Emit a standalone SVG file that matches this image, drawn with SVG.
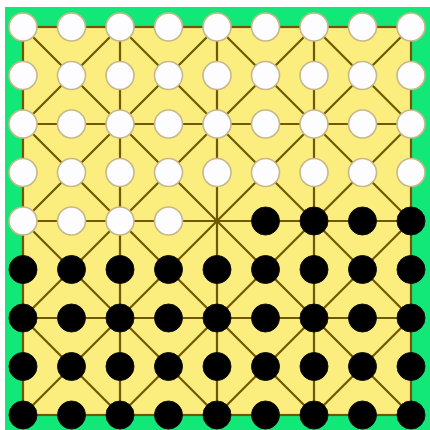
<svg xmlns="http://www.w3.org/2000/svg" width="430" height="430" viewBox="0 0 430 430">
<style>
.bd{fill:#fcee7e;stroke:#6e5800;stroke-width:2.2}
.ln{stroke:#6e5800;stroke-width:2.2;fill:none}
.w{fill:#fdfcfe;stroke:#c6b88a;stroke-width:1.6}
.b{fill:#000;stroke:#111;stroke-width:1}
</style>
<rect width="430" height="430" fill="#ffffff"/>
<rect x="5" y="7" width="425" height="423" fill="#12e878"/>
<rect class="bd" x="23" y="27" width="388" height="388"/>
<g id="connectors" class="ln">
<path d="M23 124H411M23 221H411M23 318H411M120 27V415M217 27V415M314 27V415"/>
<path d="M23 318L120 415M23 221L217 415M23 124L314 415M23 27L411 415M120 27L411 318M217 27L411 221M314 27L411 124"/>
<path d="M120 27L23 124M217 27L23 221M314 27L23 318M411 27L23 415M411 124L120 415M411 221L217 415M411 318L314 415"/>
</g>
<g id="white-pieces">
<g id="w-0-0"><circle class="w" cx="23" cy="27" r="14"/></g>
<g id="w-1-0"><circle class="w" cx="71.5" cy="27" r="14"/></g>
<g id="w-2-0"><circle class="w" cx="120" cy="27" r="14"/></g>
<g id="w-3-0"><circle class="w" cx="168.5" cy="27" r="14"/></g>
<g id="w-4-0"><circle class="w" cx="217" cy="27" r="14"/></g>
<g id="w-5-0"><circle class="w" cx="265.5" cy="27" r="14"/></g>
<g id="w-6-0"><circle class="w" cx="314" cy="27" r="14"/></g>
<g id="w-7-0"><circle class="w" cx="362.5" cy="27" r="14"/></g>
<g id="w-8-0"><circle class="w" cx="411" cy="27" r="14"/></g>
<g id="w-0-1"><circle class="w" cx="23" cy="75.5" r="14"/></g>
<g id="w-1-1"><circle class="w" cx="71.5" cy="75.5" r="14"/></g>
<g id="w-2-1"><circle class="w" cx="120" cy="75.5" r="14"/></g>
<g id="w-3-1"><circle class="w" cx="168.5" cy="75.5" r="14"/></g>
<g id="w-4-1"><circle class="w" cx="217" cy="75.5" r="14"/></g>
<g id="w-5-1"><circle class="w" cx="265.5" cy="75.5" r="14"/></g>
<g id="w-6-1"><circle class="w" cx="314" cy="75.5" r="14"/></g>
<g id="w-7-1"><circle class="w" cx="362.5" cy="75.5" r="14"/></g>
<g id="w-8-1"><circle class="w" cx="411" cy="75.5" r="14"/></g>
<g id="w-0-2"><circle class="w" cx="23" cy="124" r="14"/></g>
<g id="w-1-2"><circle class="w" cx="71.5" cy="124" r="14"/></g>
<g id="w-2-2"><circle class="w" cx="120" cy="124" r="14"/></g>
<g id="w-3-2"><circle class="w" cx="168.5" cy="124" r="14"/></g>
<g id="w-4-2"><circle class="w" cx="217" cy="124" r="14"/></g>
<g id="w-5-2"><circle class="w" cx="265.5" cy="124" r="14"/></g>
<g id="w-6-2"><circle class="w" cx="314" cy="124" r="14"/></g>
<g id="w-7-2"><circle class="w" cx="362.5" cy="124" r="14"/></g>
<g id="w-8-2"><circle class="w" cx="411" cy="124" r="14"/></g>
<g id="w-0-3"><circle class="w" cx="23" cy="172.5" r="14"/></g>
<g id="w-1-3"><circle class="w" cx="71.5" cy="172.5" r="14"/></g>
<g id="w-2-3"><circle class="w" cx="120" cy="172.5" r="14"/></g>
<g id="w-3-3"><circle class="w" cx="168.5" cy="172.5" r="14"/></g>
<g id="w-4-3"><circle class="w" cx="217" cy="172.5" r="14"/></g>
<g id="w-5-3"><circle class="w" cx="265.5" cy="172.5" r="14"/></g>
<g id="w-6-3"><circle class="w" cx="314" cy="172.5" r="14"/></g>
<g id="w-7-3"><circle class="w" cx="362.5" cy="172.5" r="14"/></g>
<g id="w-8-3"><circle class="w" cx="411" cy="172.5" r="14"/></g>
<g id="w-0-4"><circle class="w" cx="23" cy="221" r="14"/></g>
<g id="w-1-4"><circle class="w" cx="71.5" cy="221" r="14"/></g>
<g id="w-2-4"><circle class="w" cx="120" cy="221" r="14"/></g>
<g id="w-3-4"><circle class="w" cx="168.5" cy="221" r="14"/></g>
</g>
<g id="black-pieces">
<g id="b-5-4"><circle class="b" cx="265.5" cy="221" r="14"/></g>
<g id="b-6-4"><circle class="b" cx="314" cy="221" r="14"/></g>
<g id="b-7-4"><circle class="b" cx="362.5" cy="221" r="14"/></g>
<g id="b-8-4"><circle class="b" cx="411" cy="221" r="14"/></g>
<g id="b-0-5"><circle class="b" cx="23" cy="269.5" r="14"/></g>
<g id="b-1-5"><circle class="b" cx="71.5" cy="269.5" r="14"/></g>
<g id="b-2-5"><circle class="b" cx="120" cy="269.5" r="14"/></g>
<g id="b-3-5"><circle class="b" cx="168.5" cy="269.5" r="14"/></g>
<g id="b-4-5"><circle class="b" cx="217" cy="269.5" r="14"/></g>
<g id="b-5-5"><circle class="b" cx="265.5" cy="269.5" r="14"/></g>
<g id="b-6-5"><circle class="b" cx="314" cy="269.5" r="14"/></g>
<g id="b-7-5"><circle class="b" cx="362.5" cy="269.5" r="14"/></g>
<g id="b-8-5"><circle class="b" cx="411" cy="269.5" r="14"/></g>
<g id="b-0-6"><circle class="b" cx="23" cy="318" r="14"/></g>
<g id="b-1-6"><circle class="b" cx="71.5" cy="318" r="14"/></g>
<g id="b-2-6"><circle class="b" cx="120" cy="318" r="14"/></g>
<g id="b-3-6"><circle class="b" cx="168.5" cy="318" r="14"/></g>
<g id="b-4-6"><circle class="b" cx="217" cy="318" r="14"/></g>
<g id="b-5-6"><circle class="b" cx="265.5" cy="318" r="14"/></g>
<g id="b-6-6"><circle class="b" cx="314" cy="318" r="14"/></g>
<g id="b-7-6"><circle class="b" cx="362.5" cy="318" r="14"/></g>
<g id="b-8-6"><circle class="b" cx="411" cy="318" r="14"/></g>
<g id="b-0-7"><circle class="b" cx="23" cy="366.5" r="14"/></g>
<g id="b-1-7"><circle class="b" cx="71.5" cy="366.5" r="14"/></g>
<g id="b-2-7"><circle class="b" cx="120" cy="366.5" r="14"/></g>
<g id="b-3-7"><circle class="b" cx="168.5" cy="366.5" r="14"/></g>
<g id="b-4-7"><circle class="b" cx="217" cy="366.5" r="14"/></g>
<g id="b-5-7"><circle class="b" cx="265.5" cy="366.5" r="14"/></g>
<g id="b-6-7"><circle class="b" cx="314" cy="366.5" r="14"/></g>
<g id="b-7-7"><circle class="b" cx="362.5" cy="366.5" r="14"/></g>
<g id="b-8-7"><circle class="b" cx="411" cy="366.5" r="14"/></g>
<g id="b-0-8"><circle class="b" cx="23" cy="415" r="14"/></g>
<g id="b-1-8"><circle class="b" cx="71.5" cy="415" r="14"/></g>
<g id="b-2-8"><circle class="b" cx="120" cy="415" r="14"/></g>
<g id="b-3-8"><circle class="b" cx="168.5" cy="415" r="14"/></g>
<g id="b-4-8"><circle class="b" cx="217" cy="415" r="14"/></g>
<g id="b-5-8"><circle class="b" cx="265.5" cy="415" r="14"/></g>
<g id="b-6-8"><circle class="b" cx="314" cy="415" r="14"/></g>
<g id="b-7-8"><circle class="b" cx="362.5" cy="415" r="14"/></g>
<g id="b-8-8"><circle class="b" cx="411" cy="415" r="14"/></g>
</g>
</svg>
